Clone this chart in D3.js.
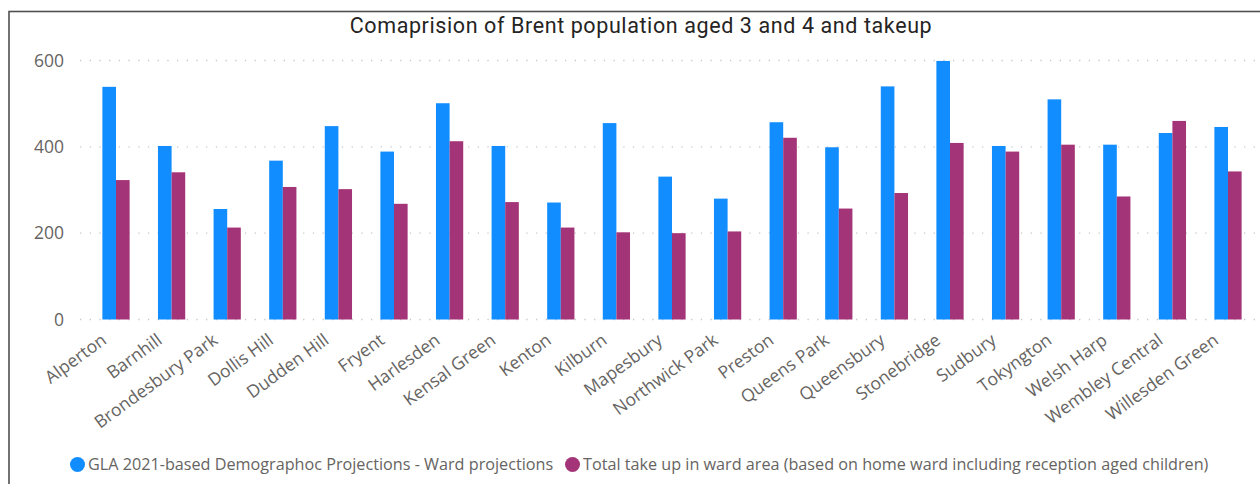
<!DOCTYPE html>
<html>
<head>
<meta charset="utf-8">
<script src="https://cdn.jsdelivr.net/npm/d3@7"></script>
<style>
  html, body { margin: 0; padding: 0; background: #fff; }
  svg { display: block; }
  .tick text { font-family: "Open Sans", "Noto Sans", sans-serif; }
</style>
</head>
<body>
<svg id="chart" width="1260" height="484"></svg>
<script>
const categories = ["Alperton","Barnhill","Brondesbury Park","Dollis Hill","Dudden Hill","Fryent","Harlesden","Kensal Green","Kenton","Kilburn","Mapesbury","Northwick Park","Preston","Queens Park","Queensbury","Stonebridge","Sudbury","Tokyngton","Welsh Harp","Wembley Central","Willesden Green"];
const projections = [539,402,256,368,448,389,501,402,271,455,331,280,457,399,540,599,402,510,405,432,446];
const takeup = [323,341,213,307,302,268,413,272,213,202,200,204,421,257,293,409,389,405,285,460,343];
const seriesNames = ["GLA 2021-based Demographoc Projections - Ward projections","Total take up in ward area (based on home ward including reception aged children)"];
const yTicks = [0,200,400,600];
const title = "Comaprision of Brent population aged 3 and 4 and takeup";

const colors = ["#118DFF", "#A43478"];
const svg = d3.select("#chart");

// border
svg.append("rect").attr("x", 9).attr("y", 11.5).attr("width", 1300).attr("height", 600)
  .attr("fill", "none").attr("stroke", "#505050").attr("stroke-width", 1.6);

// title
svg.append("text").attr("x", 641).attr("y", 32.5).attr("text-anchor", "middle")
  .attr("font-family", "Roboto, sans-serif").attr("font-size", 21.5).attr("letter-spacing", 0.6)
  .attr("fill", "#252423")
  .text(title);

const x = d3.scaleBand().domain(categories).range([88.2, 1255.8]).paddingInner(0.51).paddingOuter(0.255);
const xs = d3.scaleBand().domain([0,1]).range([0, x.bandwidth()]);
const y = d3.scaleLinear().domain([0, 600]).range([319.5, 60.5]);

// gridlines
svg.append("g").selectAll("line").data(yTicks).join("line")
  .attr("x1", 80).attr("x2", 1260).attr("y1", d => y(d)).attr("y2", d => y(d))
  .attr("stroke", "#C8C8C8").attr("stroke-width", 1.3).attr("stroke-dasharray", "1.3,8.4");

// y axis
const yAxis = svg.append("g").attr("transform", "translate(68,0)")
  .call(d3.axisLeft(y).tickValues(yTicks).tickSize(0).tickPadding(4));
yAxis.select(".domain").remove();
yAxis.selectAll("text").attr("font-size", 17.5).attr("fill", "#666462");

// bars
const series = [projections, takeup];
series.forEach((vals, si) => {
  svg.append("g").selectAll("rect").data(categories).join("rect")
    .attr("x", (d) => x(d) + xs(si))
    .attr("width", xs.bandwidth())
    .attr("y", (d, i) => y(vals[i]))
    .attr("height", (d, i) => y(0) - y(vals[i]))
    .attr("fill", colors[si]);
});

// x axis labels
const xAxis = svg.append("g").attr("transform", "translate(0,328)")
  .call(d3.axisBottom(x).tickSize(0).tickPadding(0));
xAxis.select(".domain").remove();
xAxis.selectAll("text")
  .attr("font-size", 17.5).attr("fill", "#666462")
  .attr("text-anchor", "end")
  .attr("dy", "0.75em")
  .attr("transform", "translate(-16,4) rotate(-36)");

// legend
const legend = svg.append("g").attr("font-family", "Open Sans, sans-serif").attr("font-size", 16.2).attr("fill", "#666462");
const legendX = [77.5, 572.5];
seriesNames.forEach((name, i) => {
  legend.append("circle").attr("cx", legendX[i]).attr("cy", 464.5).attr("r", 7.5).attr("fill", colors[i]);
  legend.append("text").attr("x", legendX[i] + 10.5).attr("y", 470).text(name);
});
</script>
</body>
</html>
